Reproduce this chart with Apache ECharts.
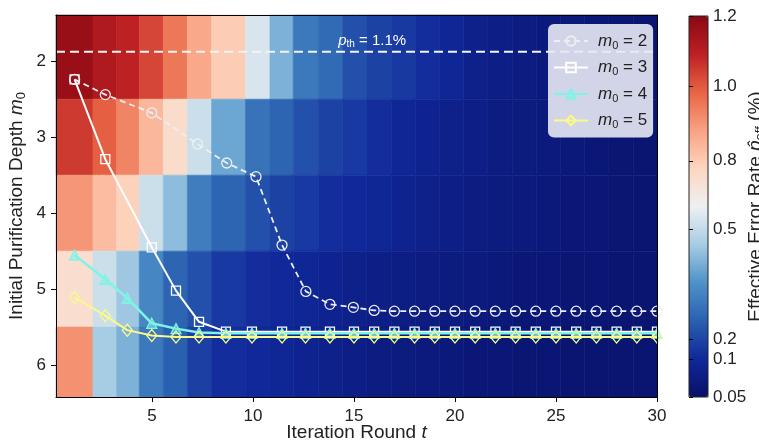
<!DOCTYPE html>
<html><head><meta charset="utf-8">
<script src="https://cdn.jsdelivr.net/npm/echarts@6/dist/echarts.min.js"></script>
<style>html,body{margin:0;padding:0;background:#fff}#c{width:759px;height:444px}</style>
</head><body><div id="c"></div><script>
// ---------------- data ----------------
const xTicks = [5, 10, 15, 20, 25, 30];
const yTicks = [2, 3, 4, 5, 6];
const m0Rows = [2, 3, 4, 5, 6];
// heatmap column edges (iteration-round units)
const colEdges = [0.25, 2.08, 3.25, 4.37, 5.56, 6.75, 7.95, 9.63, 10.84, 11.99, 13.23, 14.44, 15.64,
  16.84, 18.04, 19.23, 20.43, 21.63, 22.83, 24.03, 25.23, 26.42, 27.62, 28.82, 30];
// effective error rate (%) per cell, one array per m0 row
const heatM2 = [1.17,1.12,1.09,1.03,0.95,0.87,0.80,0.55,0.41,0.30,0.27,0.22,0.19,0.16,0.12,0.095,0.085,0.08,0.075,0.07,0.068,0.065,0.062,0.06];
const heatM3 = [1.05,0.99,0.93,0.84,0.73,0.52,0.39,0.29,0.26,0.22,0.19,0.16,0.12,0.095,0.09,0.085,0.08,0.075,0.072,0.07,0.068,0.065,0.062,0.06];
const heatM4 = [0.90,0.83,0.78,0.52,0.43,0.31,0.26,0.22,0.19,0.16,0.12,0.10,0.095,0.09,0.085,0.08,0.075,0.072,0.07,0.068,0.065,0.065,0.062,0.06];
const heatM5 = [0.72,0.52,0.45,0.33,0.26,0.22,0.16,0.12,0.10,0.095,0.09,0.085,0.08,0.078,0.075,0.072,0.07,0.068,0.065,0.065,0.062,0.062,0.06,0.06];
const heatM6 = [0.91,0.46,0.41,0.30,0.25,0.18,0.12,0.10,0.095,0.09,0.085,0.08,0.075,0.072,0.07,0.068,0.065,0.065,0.062,0.062,0.06,0.06,0.06,0.06];

// trajectories (x = iteration round, y = m0 axis position)
const t2 = [1.17,2.69,4.99,7.26,8.70,10.15,11.44,12.62,13.81,14.97,16,17,18,19,20,21,22,23,24,25,26,27,28,29,30];
const y2 = [2.24,2.44,2.68,3.09,3.34,3.52,4.42,5.03,5.20,5.24,5.28,5.29,5.29,5.29,5.29,5.29,5.29,5.29,5.29,5.29,5.29,5.29,5.29,5.29,5.29];
const t3 = [1.17,2.69,4.99,6.19,7.33,8.66,9.95,11.44,12.6,13.81,15,16,17,18,19,20,21,22,23,24,25,26,27,28,29,30];
const y3 = [2.24,3.29,4.45,5.02,5.43,5.56,5.56,5.56,5.56,5.56,5.56,5.56,5.56,5.56,5.56,5.56,5.56,5.56,5.56,5.56,5.56,5.56,5.56,5.56,5.56,5.56];
const t4 = [1.17,2.69,3.78,4.99,6.19,7.33,8.66,9.95,11.44,12.6,13.81,15,16,17,18,19,20,21,22,23,24,25,26,27,28,29,30];
const y4 = [4.55,4.87,5.12,5.45,5.52,5.57,5.58,5.58,5.58,5.58,5.58,5.58,5.58,5.58,5.58,5.58,5.58,5.58,5.58,5.58,5.58,5.58,5.58,5.58,5.58,5.58,5.58];
const t5 = [1.17,2.69,3.78,4.99,6.19,7.33,8.66,9.95,11.44,12.6,13.81,15,16,17,18,19,20,21,22,23,24,25,26,27,28,29,30];
const y5 = [5.11,5.35,5.54,5.61,5.63,5.63,5.63,5.63,5.63,5.63,5.63,5.63,5.63,5.63,5.63,5.63,5.63,5.63,5.63,5.63,5.63,5.63,5.63,5.63,5.63,5.63,5.63];
const legendNames = ['2', '3', '4', '5'];
const thresholdM = 1.875;       // p_th = 1.1% level on the m0 axis
const thresholdText = '1.1%';
const cbTickVals = [0.05, 0.1, 0.2, 0.5, 0.8, 1.0, 1.2];
const cbTickLabels = ['0.05', '0.1', '0.2', '0.5', '0.8', '1.0', '1.2'];

// ---------------- scale / style ----------------
const X_MIN = 0.25, X_MAX = 30, Y_MIN = 1.392, Y_MAX = 6.42;
const cbTickPos = [0, 0.100, 0.152, 0.440, 0.620, 0.816, 1.0]; // colour-bar norm
const pthLabelT = 15.9;
const F = '"Liberation Sans", Arial, Helvetica, sans-serif';
const cmap = ['#081068','#10289a','#2a60b0','#4e92c8','#a6cce4','#eef0f2','#fdd6c0','#f8a282','#e86444','#bc2024','#8a0812'];

function norm(v) {
  if (v <= cbTickVals[0]) return 0;
  for (let i = 1; i < cbTickVals.length; i++) {
    if (v <= cbTickVals[i]) {
      const f = (v - cbTickVals[i - 1]) / (cbTickVals[i] - cbTickVals[i - 1]);
      return cbTickPos[i - 1] + f * (cbTickPos[i] - cbTickPos[i - 1]);
    }
  }
  return 1;
}
const heatRows = [heatM2, heatM3, heatM4, heatM5, heatM6];
const rowEdges = [Y_MIN].concat(m0Rows.slice(1).map(m => m - 0.5)).concat([Y_MAX]);
const heatData = [];
heatRows.forEach((row, r) => row.forEach((v, c) => {
  heatData.push([colEdges[c], colEdges[c + 1], rowEdges[r], rowEdges[r + 1], v, norm(v)]);
}));
const zip = (a, b) => a.map((x, i) => [x, b[i]]);

const richSub = (size) => ({
  i: { fontStyle: 'italic', fontSize: size, fontFamily: F, lineHeight: size + 3 },
  s: { fontSize: Math.round(size * 0.66), fontFamily: F, verticalAlign: 'bottom', lineHeight: Math.round(size * 0.66) }
});

const chart = echarts.init(document.getElementById('c'), null, { renderer: 'canvas' });
const lineCommon = { xAxisIndex: 0, yAxisIndex: 0, showSymbol: true, animation: false, emphasis: { disabled: true }, silent: true };

chart.setOption({
  animation: false,
  textStyle: { fontFamily: F },
  grid: [
    { left: 56, top: 15, width: 601, height: 382, show: false, outerBoundsMode: 'none', containLabel: false },
    { left: 689, top: 16, width: 19, height: 381, show: true, z: 10, borderColor: '#222', borderWidth: 1, backgroundColor: 'rgba(0,0,0,0)', outerBoundsMode: 'none', containLabel: false }
  ],
  xAxis: [
    { type: 'value', gridIndex: 0, min: X_MIN, max: X_MAX, position: 'bottom', z: 10,
      axisLine: { show: true, onZero: false, lineStyle: { color: '#000', width: 1 } },
      axisTick: { show: true, customValues: xTicks, length: 5, lineStyle: { color: '#000' } },
      axisLabel: { customValues: xTicks, fontSize: 17, color: '#222', margin: 11, fontFamily: F },
      splitLine: { show: false },
      name: 'Iteration Round {i|t}', nameLocation: 'middle', nameGap: 25, nameMoveOverlap: false,
      nameTextStyle: { fontSize: 19, color: '#222', fontFamily: F, rich: richSub(19) } },
    { type: 'value', gridIndex: 0, min: X_MIN, max: X_MAX, position: 'top', z: 10,
      axisLine: { show: true, onZero: false, lineStyle: { color: '#000', width: 1 } },
      axisTick: { show: false }, axisLabel: { show: false }, splitLine: { show: false } },
    { type: 'value', gridIndex: 1, min: 0, max: 1, show: false }
  ],
  yAxis: [
    { type: 'value', gridIndex: 0, inverse: true, min: Y_MIN, max: Y_MAX, z: 10,
      axisLine: { show: true, onZero: false, lineStyle: { color: '#000', width: 1 } },
      axisTick: { show: true, customValues: yTicks, length: 5, lineStyle: { color: '#000' } },
      axisLabel: { customValues: yTicks, fontSize: 17, color: '#222', margin: 10, fontFamily: F },
      splitLine: { show: false },
      name: 'Initial Purification Depth {i|m}{s|0}', nameLocation: 'middle', nameGap: 28, nameMoveOverlap: false,
      nameTextStyle: { fontSize: 19, color: '#222', fontFamily: F, rich: richSub(19) } },
    { type: 'value', gridIndex: 0, inverse: true, min: Y_MIN, max: Y_MAX, position: 'right', z: 10,
      axisLine: { show: true, onZero: false, lineStyle: { color: '#000', width: 1 } },
      axisTick: { show: false }, axisLabel: { show: false }, splitLine: { show: false } },
    { type: 'value', gridIndex: 1, min: 0, max: 1, position: 'right', z: 10,
      axisLine: { show: false },
      axisTick: { show: true, customValues: cbTickPos, length: 4, lineStyle: { color: '#000' } },
      axisLabel: { customValues: cbTickPos, fontSize: 17, color: '#222', margin: 5, fontFamily: F,
        formatter: v => { const i = cbTickPos.findIndex(p => Math.abs(p - v) < 1e-6); return i >= 0 ? cbTickLabels[i] : ''; } },
      splitLine: { show: false },
      name: 'Effective Error Rate {i|p\u0302}{s|eff} (%)', nameLocation: 'middle', nameGap: 37, nameMoveOverlap: false,
      nameTextStyle: { fontSize: 19, color: '#222', fontFamily: F, rich: richSub(19) } }
  ],
  visualMap: {
    type: 'continuous', seriesIndex: 0, dimension: 5, min: 0, max: 1,
    calculable: false, orient: 'vertical', left: 689, top: 16, padding: 0,
    itemWidth: 19, itemHeight: 381, text: null, showLabel: false, hoverLink: false,
    inRange: { color: cmap }
  },
  legend: {
    data: legendNames.map(n => 'm0 = ' + n),
    orient: 'vertical', left: 548, top: 24, padding: [7, 6, 7, 5], itemGap: 6.5,
    itemWidth: 34, itemHeight: 12, selectedMode: false,
    backgroundColor: 'rgba(232,234,244,0.9)', borderRadius: 6,
    formatter: name => '{i|m}{s|0} = ' + name.split('= ')[1],
    textStyle: { fontSize: 17, color: '#222', fontFamily: F, lineHeight: 20, padding: [0, 0, 0, 5], rich: richSub(17) }
  },
  series: [
    { type: 'custom', xAxisIndex: 0, yAxisIndex: 0, data: heatData, encode: { x: [0, 1], y: [2, 3] }, z: 1, silent: true,
      renderItem: (params, api) => {
        const a = api.coord([api.value(0), api.value(2)]);
        const b = api.coord([api.value(1), api.value(3)]);
        const c = api.visual('color');
        return { type: 'rect', shape: { x: Math.min(a[0], b[0]), y: Math.min(a[1], b[1]), width: Math.abs(b[0] - a[0]), height: Math.abs(b[1] - a[1]) },
          style: { fill: c, stroke: c, lineWidth: 0.6 } };
      } },
    Object.assign({}, lineCommon, { name: 'threshold', type: 'line', data: [[X_MIN, thresholdM], [X_MAX, thresholdM]], symbol: 'none', z: 3,
      lineStyle: { color: '#f4f4f4', width: 2, type: [9, 5] },
      markPoint: { symbol: 'circle', symbolSize: 0, silent: true, animation: false,
        data: [{ coord: [pthLabelT, thresholdM], value: 0 }],
        label: { show: true, position: 'top', distance: 2, formatter: '{i|p}{s|th} = ' + thresholdText, color: '#fff', fontSize: 15, fontFamily: F,
          rich: { i: { fontStyle: 'italic', fontSize: 15, color: '#fff', fontFamily: F, lineHeight: 18 }, s: { fontSize: 10, color: '#fff', fontFamily: F, verticalAlign: 'bottom', lineHeight: 10 } } } } }),
    Object.assign({}, lineCommon, { name: 'm0 = 3', type: 'line', data: zip(t3, y3), z: 4,
      symbol: 'rect', symbolSize: 9, lineStyle: { color: '#ffffff', width: 2 },
      itemStyle: { color: 'rgba(0,0,0,0)', borderColor: '#ffffff', borderWidth: 1.3 } }),
    Object.assign({}, lineCommon, { name: 'm0 = 4', type: 'line', data: zip(t4, y4), z: 5,
      symbol: 'triangle', symbolSize: 10, lineStyle: { color: '#7ff3e6', width: 2.5 },
      itemStyle: { color: 'rgba(127,243,230,0.55)', borderColor: '#7ff3e6', borderWidth: 1.3 } }),
    Object.assign({}, lineCommon, { name: 'm0 = 5', type: 'line', data: zip(t5, y5), z: 6,
      symbol: 'diamond', symbolSize: [10, 12], lineStyle: { color: '#fbf98a', width: 2 },
      itemStyle: { color: 'rgba(0,0,0,0)', borderColor: '#fbf98a', borderWidth: 1.3 } }),
    Object.assign({}, lineCommon, { name: 'm0 = 2', type: 'line', data: zip(t2, y2), z: 7,
      symbol: 'circle', symbolSize: 10, lineStyle: { color: '#eceef4', width: 1.8, type: [6, 4] },
      itemStyle: { color: 'rgba(0,0,0,0)', borderColor: '#eceef4', borderWidth: 1.3 } })
  ]
});
</script></body></html>
